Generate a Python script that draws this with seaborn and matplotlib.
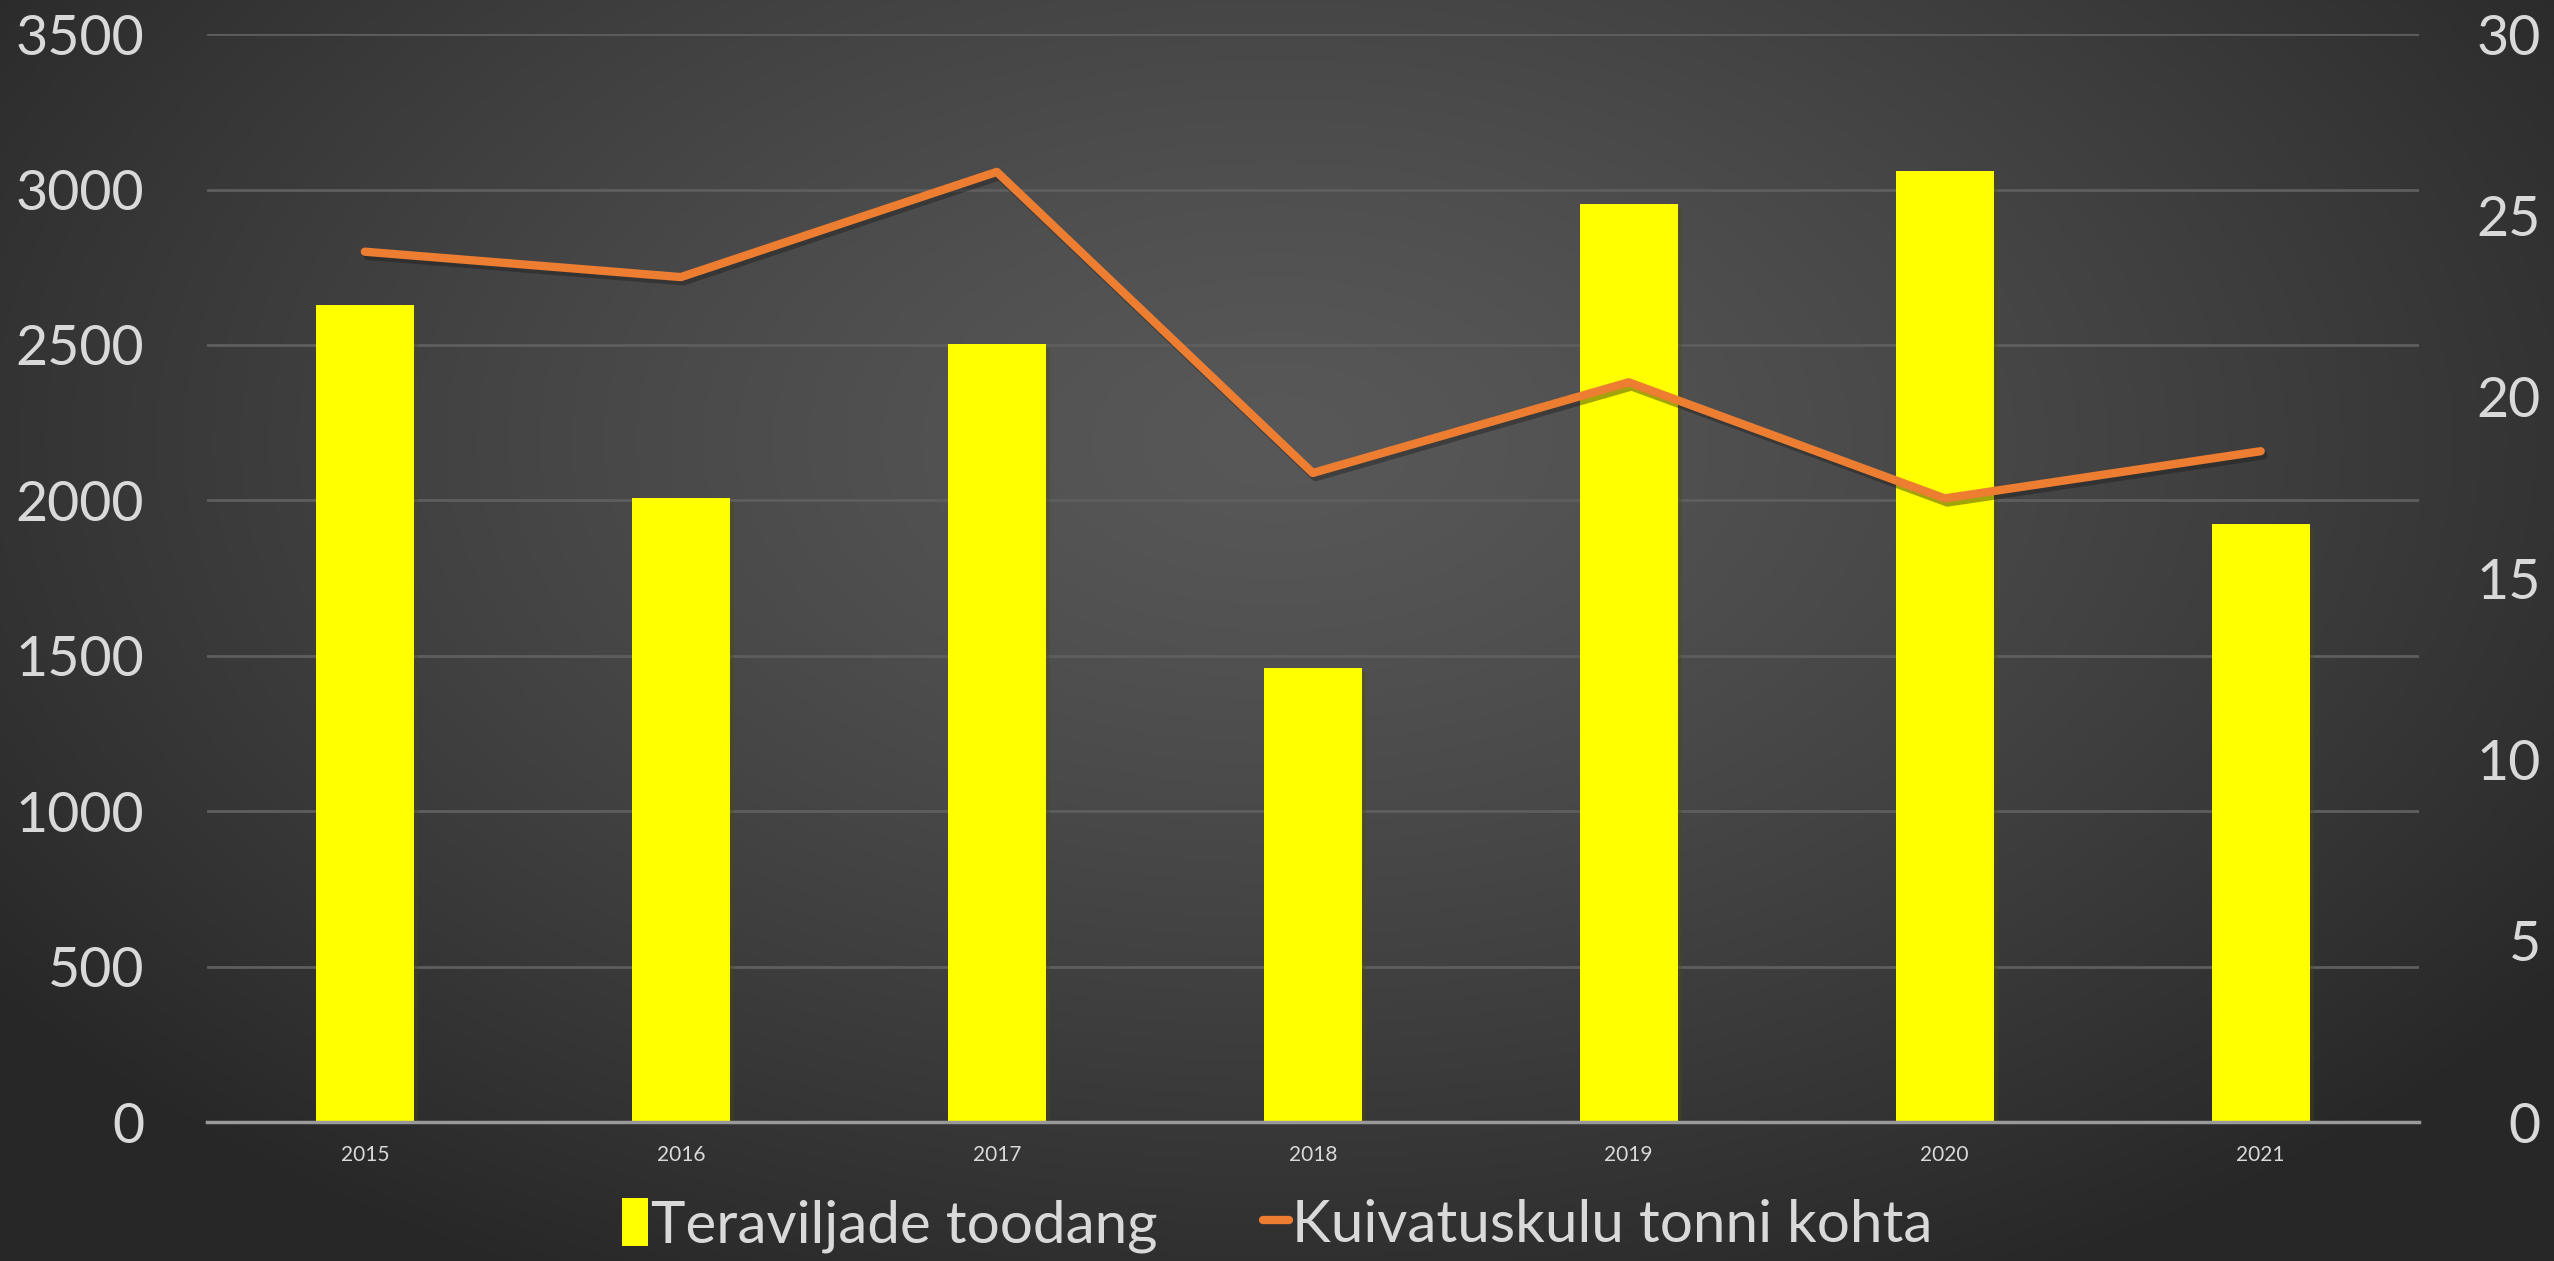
import numpy as np
import pandas as pd
import seaborn as sns
import matplotlib.pyplot as plt
import matplotlib.patheffects as pe
from matplotlib.patches import Rectangle
from matplotlib.lines import Line2D

# andmed
aastad = ['2015', '2016', '2017', '2018', '2019', '2020', '2021']
toodang = [2630, 2007, 2504, 1462, 2955, 3060, 1923]
kuivatuskulu = [24.0, 23.3, 26.2, 17.9, 20.4, 17.2, 18.5]

df = pd.DataFrame({'aasta': aastad, 'toodang': toodang, 'kulu': kuivatuskulu})

sns.set_theme(style='dark')
plt.rcParams['font.family'] = ['Lato', 'DejaVu Sans']

tekst = '#D9D9D9'
kollane = '#FFFF00'
oranz = '#ED7D31'

fig = plt.figure(figsize=(25.54, 12.61), dpi=100)

# taust: radiaalne gradient
bg = fig.add_axes([0, 0, 1, 1], zorder=-10)
yy, xx = np.mgrid[0:1:400j, 0:1:800j]
r = np.sqrt(((xx - 0.5) / 0.62) ** 2 + ((yy - 0.35) / 0.75) ** 2)
r = np.clip(r, 0, 1)
val = 0.345 - 0.19 * r ** 1.3
bg.imshow(np.dstack([val, val, val]), aspect='auto', extent=[0, 1, 1, 0])
bg.axis('off')

ax = fig.add_axes([0.081, 0.110, 0.866, 0.863])
ax.patch.set_alpha(0)

sns.barplot(data=df, x='aasta', y='toodang', color=kollane, width=0.31,
            saturation=1, ax=ax, zorder=2, edgecolor='none', linewidth=0)
for p in ax.patches:
    p.set_path_effects([pe.SimplePatchShadow(offset=(3, -3), alpha=0.35), pe.Normal()])

ax.set_ylim(0, 3500)
ax.set_xlim(-0.5, 6.5)
ax.set_yticks(range(0, 3501, 500))
ax.grid(axis='y', color='#5E5E5E', linewidth=2, zorder=0)
ax.grid(axis='x', visible=False)
ax.set_axisbelow(True)
for s in ['top', 'right', 'left']:
    ax.spines[s].set_visible(False)
ax.spines['bottom'].set_color('#9A9A9A')
ax.spines['bottom'].set_linewidth(2.5)
ax.set_xlabel('')
ax.set_ylabel('')
ax.tick_params(axis='y', colors=tekst, labelsize=40, length=0, pad=45)
ax.tick_params(axis='x', colors=tekst, labelsize=15, length=0, pad=16)

ax2 = ax.twinx()
sns.lineplot(x=np.arange(len(aastad)), y=kuivatuskulu, color=oranz, linewidth=6,
             ax=ax2, zorder=3,
             path_effects=[pe.SimpleLineShadow(offset=(2, -3), alpha=0.4), pe.Normal()])
ax2.set_ylim(0, 30)
ax2.set_yticks(range(0, 31, 5))
ax2.grid(False)
for s in ax2.spines.values():
    s.set_visible(False)
ax2.tick_params(axis='y', colors=tekst, labelsize=40, length=0, pad=88)
for lbl in ax2.get_yticklabels():
    lbl.set_horizontalalignment('right')
ax2.set_ylabel('')

# legend
h1 = Rectangle((0, 0), 1, 1, facecolor=kollane, edgecolor='none')
h2 = Line2D([0], [0], color=oranz, linewidth=6, solid_capstyle='round')
fig.legend([h1, h2], ['Teraviljade toodang', 'Kuivatuskulu tonni kohta'],
           loc='lower center', bbox_to_anchor=(0.5, -0.035), ncol=2, frameon=False,
           fontsize=42, labelcolor=tekst, handlelength=0.45, handleheight=0.9,
           handletextpad=0.05, columnspacing=1.8)

fig.savefig('out.png', dpi=100)
